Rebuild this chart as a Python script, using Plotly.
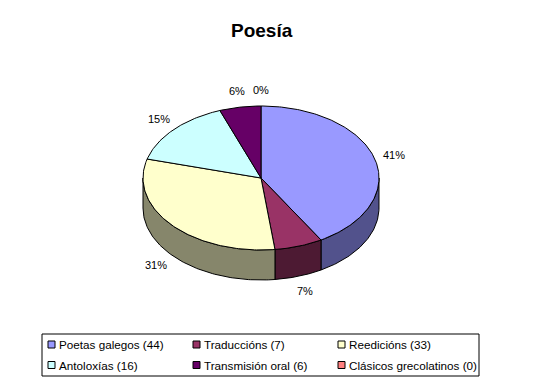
import math
import plotly.graph_objects as go

# ---- data ----
title_text = "Poesía"
categories = ["Poetas galegos", "Traduccións", "Reedicións", "Antoloxías",
              "Transmisión oral", "Clásicos grecolatinos"]
values = [44, 7, 33, 16, 6, 0]
top_colors = ["#9999FF", "#993366", "#FFFFCC", "#CCFFFF", "#660066", "#FF8080"]
side_colors = ["#52528C", "#4D1A33", "#86866B", "#668080", "#330033", "#804040"]

# ---- geometry (pixel space) ----
W, H = 558, 385
cx, cy, rx, ry, depth = 261, 178, 118, 72, 30
FONT = "Liberation Sans, Arial, sans-serif"

total = sum(values)
fracs = [v / total for v in values]

# largest-remainder rounding so the percentages add up to 100
raw = [f * 100 for f in fracs]
flo = [math.floor(r) for r in raw]
rem = 100 - sum(flo)
order = sorted(range(len(raw)), key=lambda i: raw[i] - flo[i], reverse=True)
pcts = flo[:]
for i in order[:rem]:
    pcts[i] += 1


def pt(theta_deg, dy=0.0):
    t = math.radians(theta_deg)
    return cx + rx * math.sin(t), cy - ry * math.cos(t) + dy


def arc(a0, a1, dy=0.0, n=None):
    if n is None:
        n = max(2, int(abs(a1 - a0) / 1.0) + 2)
    xs, ys = [], []
    for k in range(n):
        a = a0 + (a1 - a0) * k / (n - 1)
        x, y = pt(a, dy)
        xs.append(x)
        ys.append(y)
    return xs, ys


fig = go.Figure()

# boundaries (clockwise from 12 o'clock)
bounds = []
acc = 0.0
for f in fracs:
    bounds.append((acc * 360, (acc + f) * 360))
    acc += f

# side walls (front half only: 90..270 degrees)
for i, (a0, a1) in enumerate(bounds):
    s0, s1 = max(a0, 90), min(a1, 270)
    if s1 <= s0:
        continue
    tx, ty = arc(s0, s1, 0)
    bx, by = arc(s1, s0, depth)
    xs = tx + bx + [tx[0]]
    ys = ty + by + [ty[0]]
    fig.add_trace(go.Scatter(x=xs, y=ys, mode="lines", fill="toself",
                             fillcolor=side_colors[i],
                             line=dict(color="black", width=1),
                             hoverinfo="skip", showlegend=False))

# top faces
for i, (a0, a1) in enumerate(bounds):
    if a1 - a0 <= 0:
        continue
    ax, ay = arc(a0, a1, 0)
    xs = [cx] + ax + [cx]
    ys = [cy] + ay + [cy]
    fig.add_trace(go.Scatter(x=xs, y=ys, mode="lines", fill="toself",
                             fillcolor=top_colors[i],
                             line=dict(color="black", width=1),
                             name=categories[i], text=f"{values[i]}",
                             hoverinfo="name+text", showlegend=False))

annotations = []
# percentage labels
for i, (a0, a1) in enumerate(bounds):
    mid = (a0 + a1) / 2
    t = math.radians(mid)
    lx = cx + (rx + 20) * math.sin(t)
    ly = cy - (ry + 16) * math.cos(t) + (depth if math.cos(t) < 0 else 0)
    annotations.append(dict(x=lx, y=ly, xref="x", yref="y", text=f"{pcts[i]}%",
                            showarrow=False, xanchor="center", yanchor="middle",
                            font=dict(family=FONT, size=11, color="black")))

# title
annotations.append(dict(x=262, y=30, xref="x", yref="y", text=f"<b>{title_text}</b>",
                        showarrow=False, xanchor="center", yanchor="middle",
                        font=dict(family=FONT, size=19, color="black")))

# legend (manual, 3 columns x 2 rows)
shapes = []
lg_x0, lg_y0, lg_x1, lg_y1 = 42, 334, 479, 376
shapes.append(dict(type="rect", xref="x", yref="y", x0=lg_x0, y0=lg_y0, x1=lg_x1, y1=lg_y1,
                   line=dict(color="black", width=1), fillcolor="white", layer="below"))
col_x = [48, 193, 338]
row_y = [344.5, 365]
for i, cat in enumerate(categories):
    r, c = divmod(i, 3)
    sx, sy = col_x[c], row_y[r]
    shapes.append(dict(type="rect", xref="x", yref="y", x0=sx, y0=sy - 3.5, x1=sx + 7, y1=sy + 3.5,
                       line=dict(color="black", width=1), fillcolor=top_colors[i]))
    annotations.append(dict(x=sx + 9, y=sy, xref="x", yref="y",
                            text=f"{cat} ({values[i]})", showarrow=False,
                            xanchor="left", yanchor="middle",
                            font=dict(family=FONT, size=11.7, color="black")))

fig.update_layout(
    width=W, height=H,
    margin=dict(l=0, r=0, t=0, b=0),
    paper_bgcolor="white", plot_bgcolor="white",
    xaxis=dict(range=[0, W], visible=False, fixedrange=True),
    yaxis=dict(range=[H, 0], visible=False, fixedrange=True),
    annotations=annotations, shapes=shapes,
    showlegend=False,
)

fig.write_html("out.html")
